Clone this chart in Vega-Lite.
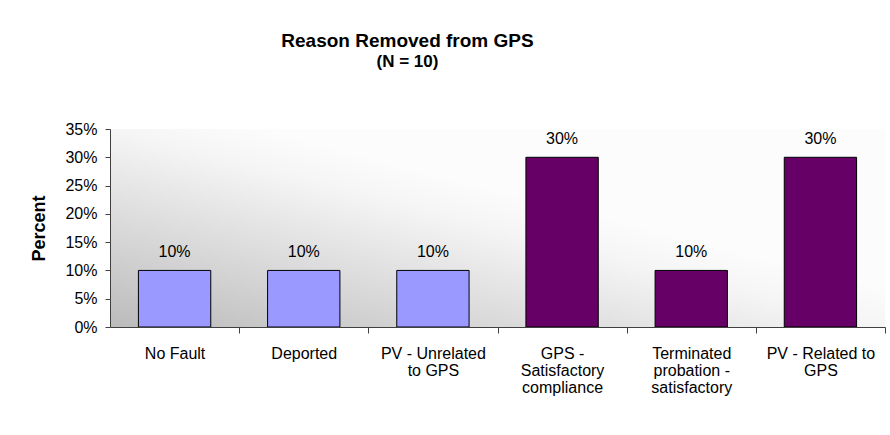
{
  "$schema": "https://vega.github.io/schema/vega-lite/v6.json",
  "autosize": "none",
  "width": 775,
  "height": 198,
  "padding": {"left": 110, "top": 129, "right": 5, "bottom": 108},
  "background": "white",
  "view": {
    "stroke": null,
    "fill": {
      "gradient": "linear",
      "x1": 0, "y1": 1, "x2": 0.6, "y2": 0.4,
      "stops": [
        {"offset": 0, "color": "#bbbbbb"},
        {"offset": 0.83, "color": "#f5f5f5"},
        {"offset": 1, "color": "#fcfcfc"}
      ]
    }
  },
  "title": {
    "text": "Reason Removed from GPS",
    "subtitle": "(N = 10)",
    "anchor": "middle",
    "frame": "group",
    "dx": -90,
    "offset": 51,
    "font": "Liberation Sans",
    "fontSize": 19,
    "fontWeight": "bold",
    "color": "black",
    "subtitleFont": "Liberation Sans",
    "subtitleFontSize": 17,
    "subtitleFontWeight": "bold",
    "subtitleColor": "black",
    "subtitlePadding": 3
  },
  "data": {
    "values": [
      {"reason": "No Fault", "pct": 0.10, "group": "A"},
      {"reason": "Deported", "pct": 0.10, "group": "A"},
      {"reason": "PV - Unrelated to GPS", "pct": 0.10, "group": "A"},
      {"reason": "GPS - Satisfactory compliance", "pct": 0.30, "group": "B"},
      {"reason": "Terminated probation - satisfactory", "pct": 0.10, "group": "B"},
      {"reason": "PV - Related to GPS", "pct": 0.30, "group": "B"}
    ]
  },
  "encoding": {
    "x": {
      "field": "reason",
      "type": "nominal",
      "sort": null,
      "scale": {"paddingInner": 0.44, "paddingOuter": 0.22},
      "axis": {
        "orient": "bottom",
        "title": null,
        "ticks": true,
        "bandPosition": 1,
        "tickExtra": false,
        "tickOffset": 28.42,
        "labelOffset": -28.42,
        "tickSize": 6,
        "tickColor": "#404040",
        "domain": true,
        "domainColor": "#404040",
        "labelAngle": 0,
        "labelPadding": 12,
        "labelFont": "Liberation Sans",
        "labelFontSize": 16,
        "labelColor": "black",
        "labelLineHeight": 17,
        "labelBaseline": "top",
        "labelLimit": 0,
        "zindex": 1,
        "labelExpr": "datum.value == 'PV - Unrelated to GPS' ? ['PV - Unrelated', 'to GPS'] : datum.value == 'GPS - Satisfactory compliance' ? ['GPS -', 'Satisfactory', 'compliance'] : datum.value == 'Terminated probation - satisfactory' ? ['Terminated', 'probation -', 'satisfactory'] : datum.value == 'PV - Related to GPS' ? ['PV - Related to', 'GPS'] : datum.value"
      }
    },
    "y": {
      "field": "pct",
      "type": "quantitative",
      "scale": {"domain": [0, 0.35], "nice": false},
      "axis": {
        "values": [0, 0.05, 0.1, 0.15, 0.2, 0.25, 0.3, 0.35],
        "format": ".0%",
        "grid": false,
        "labelOverlap": false,
        "domain": true,
        "domainColor": "#404040",
        "domainWidth": 1,
        "ticks": true,
        "tickColor": "#404040",
        "tickSize": 5,
        "labelPadding": 8,
        "labelFont": "Liberation Sans",
        "labelFontSize": 16,
        "labelColor": "black",
        "title": "Percent",
        "titleFont": "Liberation Sans",
        "titleFontSize": 18,
        "titleFontWeight": "bold",
        "titleColor": "black",
        "titlePadding": 16,
        "zindex": 1
      }
    }
  },
  "layer": [
    {
      "mark": {"type": "bar", "stroke": "black", "strokeWidth": 1},
      "encoding": {
        "color": {
          "field": "group",
          "type": "nominal",
          "scale": {"domain": ["A", "B"], "range": ["#9999FF", "#660066"]},
          "legend": null
        }
      }
    },
    {
      "mark": {"type": "text", "baseline": "alphabetic", "dy": -13, "font": "Liberation Sans", "fontSize": 16, "color": "black"},
      "encoding": {
        "text": {"field": "pct", "type": "quantitative", "format": ".0%"}
      }
    }
  ]
}
